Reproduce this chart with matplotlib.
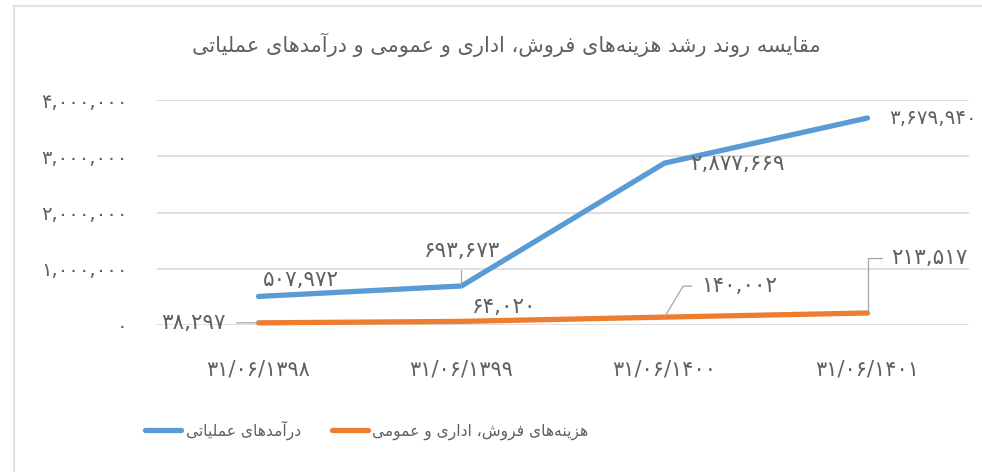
import matplotlib
matplotlib.use("Agg")
import matplotlib.pyplot as plt
from matplotlib.lines import Line2D

# ---------------- data ----------------
categories = ["31/06/1398", "31/06/1399", "31/06/1400", "31/06/1401"]
revenue = [507972, 693673, 2877669, 3679940]
expenses = [38297, 64020, 140002, 213517]
yticks = [0, 1000000, 2000000, 3000000, 4000000]
title_text = "مقایسه روند رشد هزینه‌های فروش، اداری و عمومی و درآمدهای عملیاتی"
revenue_name = "درآمدهای عملیاتی"
expenses_name = "هزینه‌های فروش، اداری و عمومی"

# ---------------- minimal Persian shaping (presentation forms + RTL) ----------------
FORMS = {
    '\u0627': ('\uFE8D', '\uFE8E', None, None),
    '\u0622': ('\uFE81', '\uFE82', None, None),
    '\u0628': ('\uFE8F', '\uFE90', '\uFE91', '\uFE92'),
    '\u062A': ('\uFE95', '\uFE96', '\uFE97', '\uFE98'),
    '\u062F': ('\uFEA9', '\uFEAA', None, None),
    '\u0631': ('\uFEAD', '\uFEAE', None, None),
    '\u0632': ('\uFEAF', '\uFEB0', None, None),
    '\u0633': ('\uFEB1', '\uFEB2', '\uFEB3', '\uFEB4'),
    '\u0634': ('\uFEB5', '\uFEB6', '\uFEB7', '\uFEB8'),
    '\u0639': ('\uFEC9', '\uFECA', '\uFECB', '\uFECC'),
    '\u0641': ('\uFED1', '\uFED2', '\uFED3', '\uFED4'),
    '\u0642': ('\uFED5', '\uFED6', '\uFED7', '\uFED8'),
    '\u0644': ('\uFEDD', '\uFEDE', '\uFEDF', '\uFEE0'),
    '\u0645': ('\uFEE1', '\uFEE2', '\uFEE3', '\uFEE4'),
    '\u0646': ('\uFEE5', '\uFEE6', '\uFEE7', '\uFEE8'),
    '\u0647': ('\uFEE9', '\uFEEA', '\uFEEB', '\uFEEC'),
    '\u0648': ('\uFEED', '\uFEEE', None, None),
    '\u06CC': ('\uFEEF', '\uFEF0', '\uFEF3', '\uFEF4'),
}


def shape_fa(s):
    out = []
    n = len(s)
    for i, ch in enumerate(s):
        if ch == '\u200c':
            continue
        if ch not in FORMS:
            out.append(ch)
            continue
        prev = s[i - 1] if i > 0 else None
        nxt = s[i + 1] if i < n - 1 else None
        jp = prev in FORMS and FORMS[prev][2] is not None
        jn = nxt in FORMS and FORMS[ch][2] is not None
        iso, fin, ini, med = FORMS[ch]
        if jp and jn:
            out.append(med)
        elif jp:
            out.append(fin)
        elif jn:
            out.append(ini)
        else:
            out.append(iso)
    return ''.join(reversed(out))


FA_DIGITS = str.maketrans('0123456789', '۰۱۲۳۴۵۶۷۸۹')


def fa_num(v):
    return f"{v:,}".translate(FA_DIGITS)


# ---------------- style ----------------
BLUE = '#5B9BD5'
ORANGE = '#ED7D31'
TXT = '#606060'
GRID = '#D9D9D9'
LEAD = '#A6A6A6'
plt.rcParams['font.family'] = ['DejaVu Sans']

W, H = 982, 472
fig = plt.figure(figsize=(W / 100, H / 100), dpi=100)
fig.patch.set_facecolor('white')

# chart border (top and left visible)
fig.add_artist(Line2D([14 / W, 14 / W], [0, 1 - 6 / H], color='#E3E3E3', lw=1.6,
                      transform=fig.transFigure))
fig.add_artist(Line2D([14 / W, 1], [1 - 6 / H, 1 - 6 / H], color='#E3E3E3', lw=1.6,
                      transform=fig.transFigure))

ax = fig.add_axes([157 / W, (H - 325) / H, (969 - 157) / W, (325 - 100) / H])
x = list(range(len(categories)))
ax.set_xlim(-0.5, len(categories) - 0.5)
ax.set_ylim(0, 4000000)
for s in ax.spines.values():
    s.set_visible(False)
ax.set_yticks(yticks)
ax.set_yticklabels([fa_num(v) for v in yticks], fontsize=14, color=TXT)
ax.yaxis.grid(True, color=GRID, lw=1.2)
ax.set_axisbelow(True)
ax.tick_params(axis='y', length=0, pad=21)
ax.set_xticks(x)
ax.set_xticklabels([c.translate(FA_DIGITS) for c in categories], fontsize=15, color=TXT)
ax.tick_params(axis='x', length=0, pad=25)

ax.plot(x, revenue, color=BLUE, lw=3.8, solid_capstyle='round', solid_joinstyle='round',
        clip_on=False, label=shape_fa(revenue_name))
ax.plot(x, expenses, color=ORANGE, lw=3.8, solid_capstyle='round', solid_joinstyle='round',
        clip_on=False, label=shape_fa(expenses_name))

lab_kw = dict(textcoords='offset pixels', color=TXT, va='center', annotation_clip=False)
FS = 15.5

# revenue labels
ax.annotate(fa_num(revenue[0]), (x[0], revenue[0]), xytext=(42, 16), ha='center',
            fontsize=FS, **lab_kw)
ax.annotate(fa_num(revenue[1]), (x[1], revenue[1]), xytext=(0, 35), ha='center', fontsize=FS,
            arrowprops=dict(arrowstyle='-', color=LEAD, lw=0.9, shrinkA=5, shrinkB=1), **lab_kw)
ax.annotate(fa_num(revenue[2]), (x[2], revenue[2]), xytext=(73, -1), ha='center',
            fontsize=FS, **lab_kw)
ax.annotate(fa_num(revenue[3]), (x[3], revenue[3]), xytext=(22, 0), ha='left',
            fontsize=14.3, **lab_kw)

# expenses labels
ax.annotate(fa_num(expenses[0]), (x[0], expenses[0]), xytext=(-33, 0), ha='right', fontsize=FS,
            arrowprops=dict(arrowstyle='-', color=LEAD, lw=0.9, shrinkA=6, shrinkB=0), **lab_kw)
ax.annotate(fa_num(expenses[1]), (x[1], expenses[1]), xytext=(43, 14), ha='center',
            fontsize=FS, **lab_kw)
ax.annotate(fa_num(expenses[2]), (x[2], expenses[2]), xytext=(37, 31), ha='left', fontsize=FS,
            arrowprops=dict(arrowstyle='-', color=LEAD, lw=0.9, shrinkA=5, shrinkB=1,
                            relpos=(0, 0.5),
                            connectionstyle='angle,angleA=0,angleB=59,rad=0'), **lab_kw)
ax.annotate(fa_num(expenses[3]), (x[3], expenses[3]), xytext=(24, 55), ha='left', fontsize=FS,
            arrowprops=dict(arrowstyle='-', color=LEAD, lw=0.9, shrinkA=5, shrinkB=1,
                            relpos=(0, 0.5),
                            connectionstyle='angle,angleA=0,angleB=90,rad=0'), **lab_kw)

# title
fig.text(506 / W, 1 - 45 / H, shape_fa(title_text), ha='center', va='center',
         fontsize=15, color=TXT)

# legend
leg = fig.legend(handles=ax.get_lines(), loc='center', bbox_to_anchor=(367 / W, 1 - 430 / H),
                 ncol=2, frameon=False, fontsize=11.2, handlelength=2.3, handletextpad=0.3,
                 columnspacing=2.0, labelcolor=TXT)

fig.savefig('out.png', dpi=100, facecolor='white')
